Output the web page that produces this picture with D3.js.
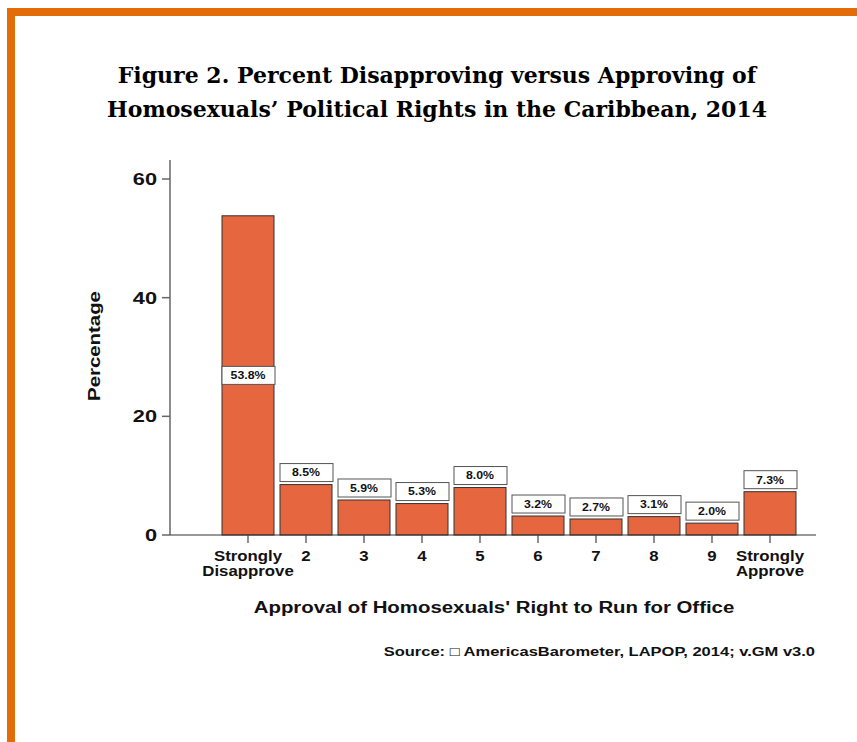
<!DOCTYPE html>
<html>
<head>
<meta charset="utf-8">
<script src="https://cdnjs.cloudflare.com/ajax/libs/d3/7.8.5/d3.min.js"></script>
<style>
body { margin: 0; background: #fff; }
text { font-family: "Liberation Sans", Arial, sans-serif; font-weight: bold; fill: #111; }
</style>
</head>
<body>
<svg width="857" height="742"></svg>
<script>
var categories = ["Strongly\nDisapprove", "2", "3", "4", "5", "6", "7", "8", "9", "Strongly\nApprove"];
var values = [53.8, 8.5, 5.9, 5.3, 8.0, 3.2, 2.7, 3.1, 2.0, 7.3];
var yTicks = [0, 20, 40, 60];
var titleLines = ["Figure 2. Percent Disapproving versus Approving of",
                  "Homosexuals\u2019 Political Rights in the Caribbean, 2014"];

var svg = d3.select("svg");

// the reference's sans text is a bit wider than Liberation Sans, so stretch it
function place(sel, px, py, sx, rot) {
  sel.attr("transform", function(d, i) {
    var a = typeof px === "function" ? px(d, i) : px;
    var b = typeof py === "function" ? py(d, i) : py;
    return "translate(" + a + "," + b + ")" + (rot ? " rotate(" + rot + ")" : "") + " scale(" + sx + ",1)";
  });
  return sel;
}

// orange frame
svg.append("rect").attr("x", 7).attr("y", 8).attr("width", 850).attr("height", 8).attr("fill", "#E36C09");
svg.append("rect").attr("x", 7).attr("y", 8).attr("width", 8).attr("height", 734).attr("fill", "#E36C09");

// title
svg.selectAll(".title")
  .data(titleLines)
  .enter().append("text")
    .attr("class", "title")
    .attr("x", 437)
    .attr("y", function(d, i) { return 83 + i * 34; })
    .attr("text-anchor", "middle")
    .style("font-family", "'DejaVu Serif', serif")
    .style("font-size", "22px")
    .style("fill", "#000")
    .text(function(d) { return d; });

var x = d3.scalePoint().domain(d3.range(categories.length)).range([248, 770]);
var y = d3.scaleLinear().domain([0, 60]).range([535, 179]);
var barW = 52;

// y axis
var yAxis = svg.append("g").attr("transform", "translate(170,0)");
yAxis.append("line").attr("x1", 0).attr("x2", 0).attr("y1", 160).attr("y2", 535)
  .attr("stroke", "#666").attr("stroke-width", 1.5);
yAxis.selectAll(".yt").data(yTicks).enter().append("line")
  .attr("x1", -8).attr("x2", 0)
  .attr("y1", function(d) { return y(d); }).attr("y2", function(d) { return y(d); })
  .attr("stroke", "#666").attr("stroke-width", 1.5);
place(yAxis.selectAll(".yl").data(yTicks).enter().append("text"),
    -13, function(d) { return y(d); }, 1.28)
  .attr("dy", "0.35em").attr("text-anchor", "end")
  .style("font-size", "17px")
  .text(function(d) { return d; });

// bars
svg.selectAll(".bar").data(values).enter().append("rect")
  .attr("x", function(d, i) { return x(i) - barW / 2; })
  .attr("y", function(d) { return y(d); })
  .attr("width", barW)
  .attr("height", function(d) { return y(0) - y(d); })
  .attr("fill", "#E5663F")
  .attr("stroke", "#333")
  .attr("stroke-width", 1);

// x axis
svg.append("line").attr("x1", 170).attr("x2", 816).attr("y1", 535).attr("y2", 535)
  .attr("stroke", "#333").attr("stroke-width", 1.2);
svg.selectAll(".xt").data(categories).enter().append("line")
  .attr("x1", function(d, i) { return x(i); }).attr("x2", function(d, i) { return x(i); })
  .attr("y1", 535).attr("y2", 543)
  .attr("stroke", "#444").attr("stroke-width", 1.2);
place(svg.selectAll(".xl").data(categories).enter().append("text"),
    function(d, i) { return x(i); }, 561, 1.2)
  .attr("text-anchor", "middle")
  .style("font-size", "14px")
  .each(function(d) {
    var t = d3.select(this);
    d.split("\n").forEach(function(s, j) {
      t.append("tspan").attr("x", 0).attr("dy", j ? "1.05em" : 0).text(s);
    });
  });

// value labels
var lab = svg.selectAll(".lab").data(values).enter().append("g")
  .attr("transform", function(d, i) {
    var cy = i === 0 ? (y(d) + y(0)) / 2 : y(d) - 12;
    return "translate(" + x(i) + "," + cy + ")";
  });
lab.append("rect").attr("x", -26).attr("y", -9).attr("width", 53).attr("height", 18)
  .attr("fill", "#fff").attr("stroke", "#555").attr("stroke-width", 1);
lab.append("text").attr("y", 0).attr("dy", "0.35em").attr("text-anchor", "middle")
  .attr("transform", "scale(1.12,1)")
  .style("font-size", "11px")
  .text(function(d) { return d.toFixed(1) + "%"; });

// axis titles
place(svg.append("text"), 100, 346, 1.2, -90)
  .attr("text-anchor", "middle").style("font-size", "17px").text("Percentage");
place(svg.append("text"), 494, 613, 1.2)
  .attr("text-anchor", "middle").style("font-size", "17px")
  .text("Approval of Homosexuals' Right to Run for Office");
place(svg.append("text"), 815, 656, 1.27)
  .attr("text-anchor", "end").style("font-size", "13px")
  .text("Source: \u25A1  AmericasBarometer, LAPOP, 2014; v.GM v3.0");
</script>
</body>
</html>
